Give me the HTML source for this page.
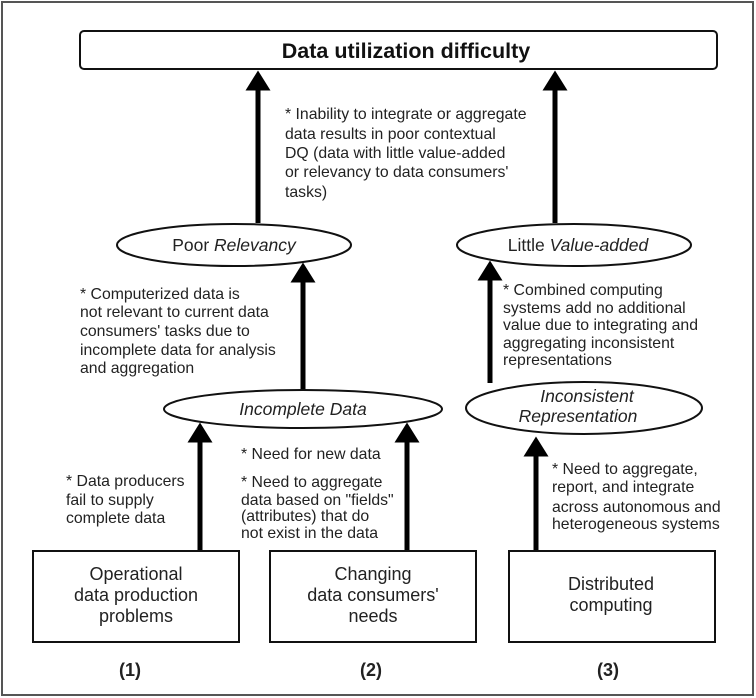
<!DOCTYPE html>
<html><head><meta charset="utf-8"><style>
html,body{margin:0;padding:0;background:#fff}
svg{display:block}
text{font-family:"Liberation Sans",sans-serif;font-size:15.8px;fill:#222}
.c{text-anchor:middle}
.i{font-style:italic}
.e{font-size:17.5px}
.b{font-size:18px}
</style></head><body>
<svg width="756" height="698" viewBox="0 0 756 698" xmlns="http://www.w3.org/2000/svg">
<defs>
<marker id="a" markerWidth="4" markerHeight="5" refX="0.5" refY="2.5" orient="auto" markerUnits="strokeWidth">
<path d="M0,0 L4,2.5 L0,5 Z" fill="#000"/>
</marker>
</defs>
<rect x="2" y="2" width="751" height="693" fill="none" stroke="#555" stroke-width="2"/>
<rect x="80" y="31" width="637" height="38" rx="4" fill="#fff" stroke="#111" stroke-width="2"/>
<text x="406" y="58" class="c" style="font-weight:bold;font-size:21.5px;fill:#111">Data utilization difficulty</text>

<g stroke="#000" stroke-width="5" marker-end="url(#a)">
<line x1="258" y1="223" x2="258" y2="88"/>
<line x1="555" y1="223" x2="555" y2="88"/>
<line x1="303" y1="390" x2="303" y2="280"/>
<line x1="490" y1="383" x2="490" y2="278"/>
<line x1="200" y1="551" x2="200" y2="440"/>
<line x1="407" y1="551" x2="407" y2="440"/>
<line x1="536" y1="551" x2="536" y2="454"/>
</g>

<ellipse cx="234" cy="245" rx="117" ry="21" fill="#fff" stroke="#111" stroke-width="2"/>
<text x="234" y="251" class="c e">Poor <tspan class="i">Relevancy</tspan></text>
<ellipse cx="574" cy="245" rx="117" ry="21" fill="#fff" stroke="#111" stroke-width="2"/>
<text x="578" y="251" class="c e">Little <tspan class="i">Value-added</tspan></text>
<ellipse cx="303" cy="409" rx="139" ry="19" fill="#fff" stroke="#111" stroke-width="2"/>
<text x="303" y="415" class="c i e">Incomplete Data</text>
<ellipse cx="584" cy="408" rx="118" ry="26" fill="#fff" stroke="#111" stroke-width="2"/>
<text x="587" y="402" class="c i e">Inconsistent</text>
<text x="578" y="422" class="c i e">Representation</text>

<text x="285" y="119">* Inability to integrate or aggregate</text>
<text x="285" y="139">data results in poor contextual</text>
<text x="285" y="158">DQ (data with little value-added</text>
<text x="285" y="177">or relevancy to data consumers'</text>
<text x="285" y="197">tasks)</text>

<text x="80" y="299">* Computerized data is</text>
<text x="80" y="317">not relevant to current data</text>
<text x="80" y="336">consumers' tasks due to</text>
<text x="80" y="355">incomplete data for analysis</text>
<text x="80" y="373">and aggregation</text>

<text x="503" y="295">* Combined computing</text>
<text x="503" y="313">systems add no additional</text>
<text x="503" y="330">value due to integrating and</text>
<text x="503" y="348">aggregating inconsistent</text>
<text x="503" y="365">representations</text>

<text x="66" y="486">* Data producers</text>
<text x="66" y="505">fail to supply</text>
<text x="66" y="523">complete data</text>

<text x="241" y="459">* Need for new data</text>
<text x="241" y="487">* Need to aggregate</text>
<text x="241" y="505">data based on "fields"</text>
<text x="241" y="521">(attributes) that do</text>
<text x="241" y="538">not exist in the data</text>

<text x="552" y="474">* Need to aggregate,</text>
<text x="552" y="492">report, and integrate</text>
<text x="552" y="512">across autonomous and</text>
<text x="552" y="529">heterogeneous systems</text>

<g fill="#fff" stroke="#111" stroke-width="2">
<rect x="33" y="551" width="206" height="91"/>
<rect x="270" y="551" width="206" height="91"/>
<rect x="509" y="551" width="206" height="91"/>
</g>
<text x="136" y="580" class="c b">Operational</text>
<text x="136" y="601" class="c b">data production</text>
<text x="136" y="622" class="c b">problems</text>
<text x="373" y="580" class="c b">Changing</text>
<text x="373" y="601" class="c b">data consumers'</text>
<text x="373" y="622" class="c b">needs</text>
<text x="611" y="590" class="c b">Distributed</text>
<text x="611" y="611" class="c b">computing</text>
<text x="130" y="676" class="c" style="font-weight:bold;font-size:18px">(1)</text>
<text x="371" y="676" class="c" style="font-weight:bold;font-size:18px">(2)</text>
<text x="608" y="676" class="c" style="font-weight:bold;font-size:18px">(3)</text>
</svg>
</body></html>
